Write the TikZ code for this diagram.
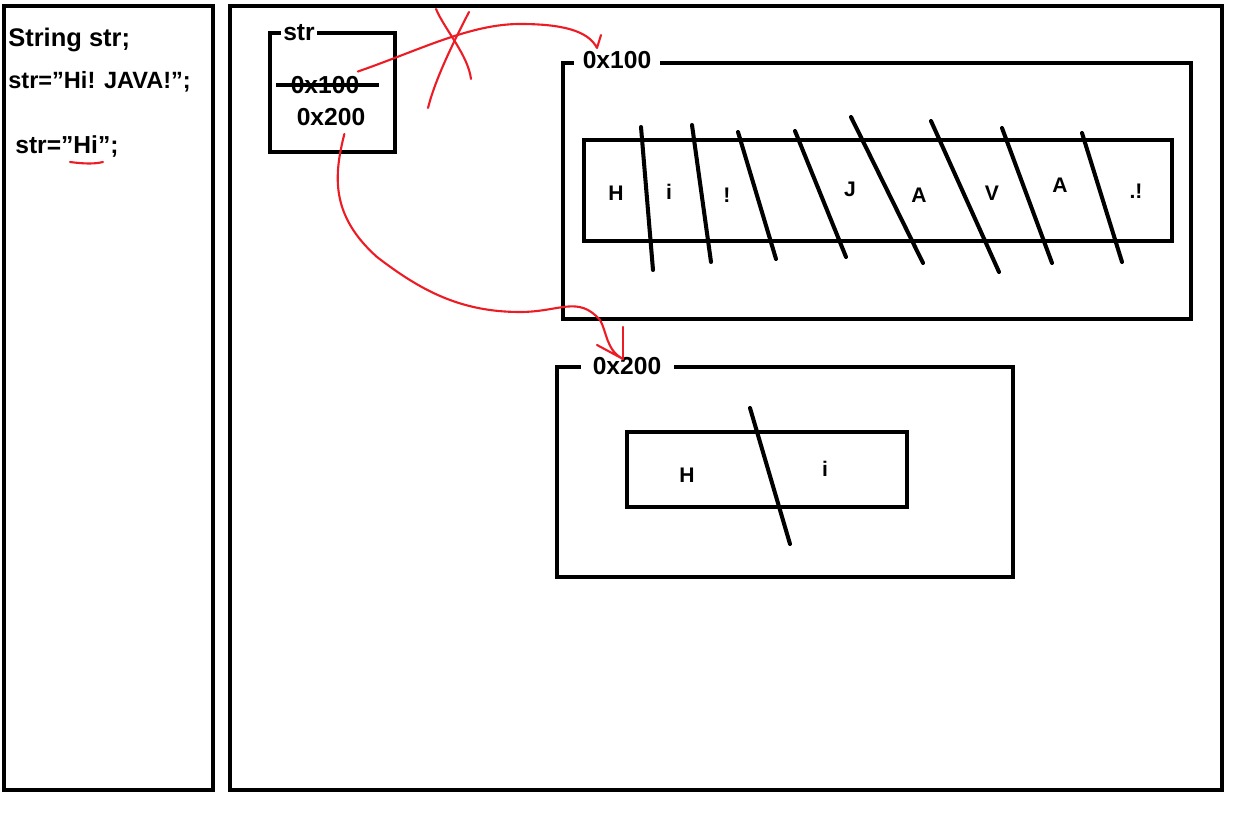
\documentclass[tikz,border=0pt]{standalone}
\usepackage{fontspec}
\setmainfont{Liberation Sans}
\usetikzlibrary{arrows.meta}

\definecolor{paintred}{RGB}{237,28,36}
\newcommand\qq{\char34\relax}

\begin{document}
\begin{tikzpicture}[x=0.02cm,y=-0.02cm,
  every node/.style={font=\fontsize{14}{16}\selectfont\bfseries,inner sep=0pt},
  box/.style={draw,line width=2.3pt},
  lbl/.style={fill=white,inner xsep=5pt,inner ysep=1pt},
  ch/.style={font=\fontsize{12}{14}\selectfont\bfseries},
  slash/.style={line width=2.3pt,line cap=round},
  pen/.style={draw=paintred,line width=1.2pt,line cap=round,line join=round}]
\useasboundingbox (0,0) rectangle (1241,820);
% frames
\draw[box] (4,6) rectangle (213,790);
\draw[box] (230,6) rectangle (1222,790);
% code
\node[anchor=west,font=\fontsize{14.5}{16}\selectfont\bfseries] at(8,40)(l1){String str;};
\node[anchor=west,font=\fontsize{13.4}{16}\selectfont\bfseries] at(8,82)(l2){str=\qq Hi! JAVA!\qq;};
\node[anchor=west] at(15,146)(l3){str=\qq Hi\qq;};
\draw[pen] (70,162) .. controls (85,164) and (95,164) .. (103,162);
% variable str
\draw[box] (270,33) rectangle (395,152);
\node[lbl,inner xsep=1.5pt] at(299,33)(s){str};
\node at(325,85)(old){0x100};
\node at(331,117)(new){0x200};
\draw[box] ([xshift=-8pt]old.west) -- ([xshift=11pt]old.east);
% object 0x100
\draw[box] (563,63) rectangle (1191,319);
\node[lbl] at(617,60)(a){0x100};
\draw[box] (584,140) rectangle (1172,241);
\foreach \c/\x/\y in {H/616/193,i/669/192,!/727/195,J/850/189,A/919/195,V/992/193,A/1060/185,.!/1136/191}
  \node[ch] at(\x,\y){\c};
\foreach \xa/\ya/\xb/\yb in {641/127/653/270,692/125/711/262,738/132/776/259,795/131/846/257,
    851/117/923/263,931/121/999/272,1002/128/1052/263,1082/133/1122/262}
  \draw[slash] (\xa,\ya) -- (\xb,\yb);
% object 0x200
\draw[box] (557,367) rectangle (1013,577);
\node[lbl,inner xsep=7pt] at(627,366)(b){0x200};
\draw[box] (627,432) rectangle (907,507);
\node[ch] at(687,475){H};
\node[ch] at(825,469){i};
\draw[slash] (750,408) -- (790,544);
% references
\coordinate (t1) at(597,48);
\coordinate (t2) at(623,359);
\draw[pen] ([xshift=-1pt,yshift=2.5pt]old.north east) .. controls (420,50) and (470,24) .. (520,24)
  .. controls (560,24) and (588,30) .. (t1) -- (601,35);
\draw[pen] (436,9) .. controls (445,30) and (468,55) .. (471,79);
\draw[pen] (469,12) .. controls (452,45) and (435,80) .. (428,108) -- (431,97);
\draw[pen] ([xshift=7.6pt,yshift=-4.5pt]new.south) .. controls (334,175) and (330,215) .. (377,257)
  .. controls (420,290) and (460,312) .. (520,312)
  .. controls (560,312) and (578,295) .. (600,320)
  .. controls (607,332) and (606,350) .. (t2) -- (597,345);
\draw[pen] (623,327) -- (t2);
\end{tikzpicture}
\end{document}
